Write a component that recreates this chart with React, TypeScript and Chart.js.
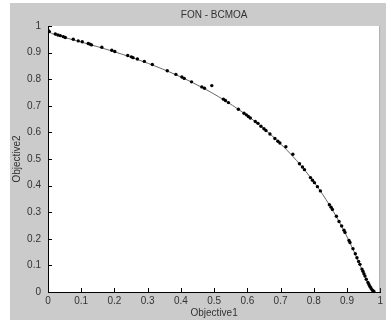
import React, { useEffect, useRef } from "react";
import { Chart, registerables } from "chart.js";

Chart.register(...registerables);

const TITLE = "FON - BCMOA";
const X_LABEL = "Objective1";
const Y_LABEL = "Objective2";

// True Pareto front (grey line)
const frontF1 = [0, 0.00995, 0.0392, 0.0861, 0.1479, 0.2212, 0.3023, 0.3874, 0.4727, 0.5551, 0.6321, 0.7018, 0.7631, 0.8155, 0.8591, 0.8946, 0.9227, 0.9444, 0.9608, 0.9729, 0.9817];
const frontF2 = [0.9817, 0.9729, 0.9608, 0.9444, 0.9227, 0.8946, 0.8591, 0.8155, 0.7631, 0.7018, 0.6321, 0.5551, 0.4727, 0.3874, 0.3023, 0.2212, 0.1479, 0.0861, 0.0392, 0.00995, 0];

// Obtained solutions (black dots)
const solF1 = [0.000, 0.004, 0.022, 0.030, 0.037, 0.046, 0.052, 0.076, 0.091, 0.103, 0.121, 0.126, 0.131, 0.162, 0.192, 0.201, 0.240, 0.251, 0.256, 0.269, 0.290, 0.314, 0.359, 0.385, 0.403, 0.410, 0.432, 0.463, 0.471, 0.493, 0.528, 0.534, 0.543, 0.573, 0.590, 0.597, 0.603, 0.609, 0.624, 0.632, 0.641, 0.650, 0.656, 0.668, 0.683, 0.692, 0.698, 0.716, 0.737, 0.757, 0.766, 0.772, 0.790, 0.796, 0.802, 0.811, 0.820, 0.847, 0.852, 0.856, 0.868, 0.876, 0.884, 0.891, 0.894, 0.906, 0.909, 0.918, 0.925, 0.930, 0.935, 0.939, 0.945, 0.948, 0.951, 0.954, 0.958, 0.963, 0.966, 0.969, 0.972, 0.975, 0.978, 0.981];
const solF2 = [0.984, 0.979, 0.970, 0.966, 0.964, 0.960, 0.957, 0.950, 0.944, 0.941, 0.934, 0.932, 0.929, 0.920, 0.909, 0.904, 0.889, 0.884, 0.881, 0.876, 0.867, 0.855, 0.832, 0.818, 0.808, 0.803, 0.790, 0.771, 0.766, 0.776, 0.725, 0.720, 0.712, 0.687, 0.672, 0.666, 0.660, 0.654, 0.641, 0.634, 0.623, 0.614, 0.607, 0.594, 0.577, 0.567, 0.560, 0.546, 0.518, 0.482, 0.470, 0.460, 0.430, 0.420, 0.411, 0.396, 0.380, 0.328, 0.319, 0.310, 0.285, 0.265, 0.248, 0.232, 0.224, 0.194, 0.186, 0.163, 0.144, 0.129, 0.115, 0.104, 0.086, 0.078, 0.069, 0.060, 0.048, 0.036, 0.028, 0.021, 0.015, 0.009, 0.005, 0.002];

const FONT = "'Liberation Sans', Arial, Helvetica, sans-serif";

export default function App() {
  const ref = useRef<HTMLCanvasElement | null>(null);

  useEffect(() => {
    if (!ref.current) return;

    const background = {
      id: "figBackground",
      beforeDraw(chart: any) {
        const { ctx, chartArea } = chart;
        ctx.save();
        ctx.fillStyle = "#cbcbcb";
        ctx.fillRect(10, 3, 376, 317);
        ctx.fillStyle = "#ffffff";
        ctx.fillRect(chartArea.left, chartArea.top, chartArea.right - chartArea.left, chartArea.bottom - chartArea.top);
        ctx.restore();
      },
    };

    const inwardTicks = {
      id: "inwardTicks",
      afterDraw(chart: any) {
        const { ctx, chartArea, scales } = chart;
        ctx.save();
        ctx.strokeStyle = "#000";
        ctx.lineWidth = 1;
        ctx.beginPath();
        for (const t of scales.x.ticks) {
          const px = Math.round(scales.x.getPixelForValue(t.value)) + 0.5;
          ctx.moveTo(px, chartArea.bottom);
          ctx.lineTo(px, chartArea.bottom - 4);
        }
        for (const t of scales.y.ticks) {
          const py = Math.round(scales.y.getPixelForValue(t.value)) + 0.5;
          ctx.moveTo(chartArea.left, py);
          ctx.lineTo(chartArea.left + 4, py);
        }
        ctx.stroke();
        ctx.strokeStyle = "#9a9a9a";
        ctx.beginPath();
        ctx.moveTo(chartArea.right - 0.5, chartArea.top);
        ctx.lineTo(chartArea.right - 0.5, chartArea.bottom);
        ctx.stroke();
        ctx.restore();
      },
    };

    const fmt = (v: any) => String(Math.round(Number(v) * 10) / 10);

    const chart = new Chart(ref.current, {
      type: "scatter",
      data: {
        datasets: [
          {
            label: "solutions",
            data: solF1.map((x, i) => ({ x, y: solF2[i] })),
            backgroundColor: "#000",
            borderColor: "#000",
            pointRadius: 1.7,
            pointBorderWidth: 0,
            order: 0,
          },
          {
            label: "front",
            data: frontF1.map((x, i) => ({ x, y: frontF2[i] })),
            showLine: true,
            borderColor: "#666",
            borderWidth: 1,
            pointRadius: 0,
            cubicInterpolationMode: "monotone",
            order: 1,
          } as any,
        ],
      },
      options: {
        responsive: false,
        animation: false,
        devicePixelRatio: 1,
        layout: { padding: { left: 11, right: 3, top: 0, bottom: 0 }, autoPadding: false } as any,
        plugins: {
          legend: { display: false },
          tooltip: { enabled: false },
          title: {
            display: true,
            text: TITLE,
            fullSize: false,
            color: "#333",
            font: { family: FONT, size: 10, weight: "normal", lineHeight: 1.2 },
            padding: { top: 9, bottom: 5 },
          } as any,
        },
        scales: {
          x: {
            type: "linear",
            min: 0,
            max: 1,
            afterFit: (s: any) => { s.height = 30; },
            ticks: {
              stepSize: 0.1,
              callback: fmt,
              color: "#333",
              padding: 3,
              maxRotation: 0,
              autoSkip: false,
              font: { family: FONT, size: 10 },
            },
            grid: { display: false, drawTicks: false },
            border: { display: true, color: "#000", width: 1 },
            title: {
              display: true,
              text: X_LABEL,
              color: "#333",
              font: { family: FONT, size: 10, lineHeight: 1.2 },
              padding: { top: 0, bottom: 3 },
            },
          },
          y: {
            type: "linear",
            min: 0,
            max: 1,
            afterFit: (s: any) => { s.width = 37; },
            ticks: {
              stepSize: 0.1,
              callback: fmt,
              color: "#333",
              padding: 7,
              autoSkip: false,
              font: { family: FONT, size: 10 },
            },
            grid: { display: false, drawTicks: false },
            border: { display: true, color: "#000", width: 1 },
            title: {
              display: true,
              text: Y_LABEL,
              color: "#333",
              font: { family: FONT, size: 10, lineHeight: 1.2 },
              padding: { top: 0, bottom: 0 },
            },
          },
        },
      },
      plugins: [background, inwardTicks],
    });

    return () => chart.destroy();
  }, []);

  return (
    <div style={{ position: "absolute", left: 0, top: 0, width: 386, height: 322 }}>
      <canvas ref={ref} width={386} height={322} style={{ display: "block" }} />
    </div>
  );
}
